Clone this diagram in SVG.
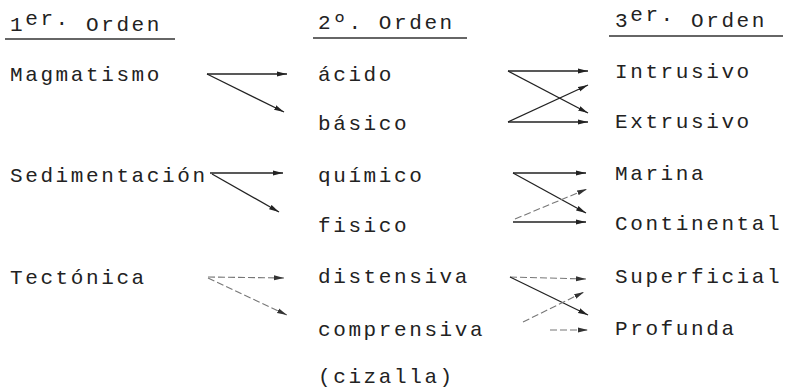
<svg xmlns="http://www.w3.org/2000/svg" width="790" height="391" viewBox="0 0 790 391">
<style>
  text { font-family: "Liberation Mono", "DejaVu Sans Mono", monospace; font-size: 21px; letter-spacing: 2.6px; fill: #222; }
  .hdr line, .ul { stroke: #333; stroke-width: 1.4; }
  .c { stroke: #222; stroke-width: 1.3; fill: none; marker-end: url(#ah); }
  .f { stroke: #777; stroke-width: 1.1; fill: none; marker-end: url(#ahf); stroke-dasharray: 7 3; }
</style>
<defs>
  <marker id="ah" markerUnits="userSpaceOnUse" markerWidth="10" markerHeight="6" refX="10" refY="3" orient="auto">
    <path d="M0,0.5 L10,3 L0,5.5 z" fill="#222"/>
  </marker>
  <marker id="ahf" markerUnits="userSpaceOnUse" markerWidth="10" markerHeight="6" refX="10" refY="3" orient="auto">
    <path d="M0,0.5 L10,3 L0,5.5 z" fill="#333"/>
  </marker>
</defs>
<rect width="790" height="391" fill="#fff"/>

<g id="headers">
  <g id="h1">
    <text x="10" y="31">1<tspan dy="-6">er.</tspan><tspan dy="6"> Orden</tspan></text>
    <line class="ul" x1="5" y1="39" x2="175" y2="39"/>
  </g>
  <g id="h2">
    <text x="318" y="29">2º. Orden</text>
    <line class="ul" x1="313" y1="38" x2="467" y2="38"/>
  </g>
  <g id="h3">
    <text x="615" y="27">3<tspan dy="-6">er.</tspan><tspan dy="6"> Orden</tspan></text>
    <line class="ul" x1="609" y1="36" x2="783" y2="36"/>
  </g>
</g>

<g id="n-magmatismo"><text x="10" y="81">Magmatismo</text></g>
<g id="n-sedimentacion"><text x="10" y="182">Sedimentación</text></g>
<g id="n-tectonica"><text x="10" y="284">Tectónica</text></g>

<g id="n-acido"><text x="318" y="81">ácido</text></g>
<g id="n-basico"><text x="318" y="130">básico</text></g>
<g id="n-quimico"><text x="318" y="182">químico</text></g>
<g id="n-fisico"><text x="318" y="232">fisico</text></g>
<g id="n-distensiva"><text x="318" y="283">distensiva</text></g>
<g id="n-comprensiva"><text x="318" y="336">comprensiva</text><text x="318" y="383">(cizalla)</text></g>

<g id="n-intrusivo"><text x="615" y="78">Intrusivo</text></g>
<g id="n-extrusivo"><text x="615" y="128">Extrusivo</text></g>
<g id="n-marina"><text x="615" y="180">Marina</text></g>
<g id="n-continental"><text x="615" y="230">Continental</text></g>
<g id="n-superficial"><text x="615" y="283">Superficial</text></g>
<g id="n-profunda"><text x="615" y="335">Profunda</text></g>

<g id="connectors">
  <path class="c" d="M207,74 L287,74"/>
  <path class="c" d="M207,74 L284,112"/>
  <path class="c" d="M210,173 L283,173"/>
  <path class="c" d="M212,174 L279,212"/>
  <path class="f" d="M208,277 L284,278"/>
  <path class="f" d="M208,278 L287,315"/>

  <path class="c" d="M508,71 L588,71"/>
  <path class="c" d="M508,71 L588,113"/>
  <path class="c" d="M508,122 L588,85"/>
  <path class="c" d="M508,122 L588,122"/>

  <path class="c" d="M513,173 L586,173"/>
  <path class="c" d="M513,173 L586,213"/>
  <path class="f" d="M515,219 L587,189"/>
  <path class="c" d="M513,222 L586,222"/>

  <path class="f" d="M510,277 L586,279"/>
  <path class="c" d="M510,277 L588,315"/>
  <path class="f" d="M523,322 L584,292"/>
  <path class="f" d="M550,330 L588,330"/>
</g>
</svg>
